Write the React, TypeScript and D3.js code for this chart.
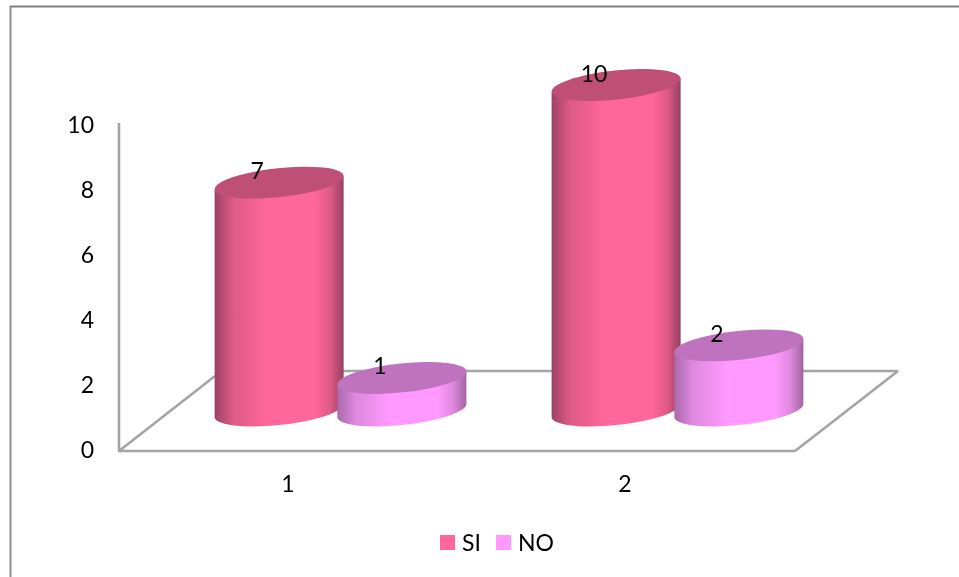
import React from "react";
import * as d3 from "d3";

const categories = ["1", "2"];
const seriesNames = ["SI", "NO"];
const siValues = [7, 10];
const noValues = [1, 2];
const yTicks = [0, 2, 4, 6, 8, 10];

const WIDTH = 959;
const HEIGHT = 577;
const FONT = "Lato, 'Open Sans', sans-serif";
const AXIS = "#a4a4a4";

const colours: Record<string, { id: string; face: string; top: string; edgeL: string; edgeM: string; edgeR: string }> = {
  SI: { id: "gradSI", face: "#ff6699", top: "#bf4f75", edgeL: "#9c4263", edgeM: "#dc5a85", edgeR: "#93405f" },
  NO: { id: "gradNO", face: "#ff99ff", top: "#bf73bf", edgeL: "#aa69aa", edgeM: "#dd88dd", edgeR: "#a064a0" },
};

// category axis along the front floor edge
const xCat = d3.scaleBand<string>().domain(categories).range([119.5, 793.5]);
// the bars sit shifted back along the floor depth
const xSeries = d3.scaleBand<string>().domain(seriesNames).range([0, 245.5]);
const DEPTH_SHIFT = 52.5;
// printed axis labels
const yAxis = d3.scaleLinear().domain([0, 10]).range([449, 124]);
// cylinder top centres
const yBar = d3.scaleLinear().domain([0, 10]).range([410.5, 85]);

const A = 64.8;
const B = 14.5;
const ROT = -6.06;
const HALF_W = 64.5;
const TILT = 6.5;

function Cylinder({ cx, value, name }: { cx: number; value: number; name: string }) {
  const c = colours[name];
  const top = yBar(value);
  const base = yBar(0);
  const arc = `A${A} ${B} ${ROT} 0 0 ${cx + HALF_W} ${base - TILT}`;
  const d = `M${cx - HALF_W} ${top + TILT}L${cx - HALF_W} ${base + TILT}${arc}L${cx + HALF_W} ${top - TILT}Z`;
  return (
    <g>
      <path d={d} fill={`url(#${c.id})`} />
      <ellipse cx={cx} cy={top} rx={A} ry={B} fill={c.top} transform={`rotate(${ROT} ${cx} ${top})`} />
    </g>
  );
}

export default function App() {
  const bars = categories.flatMap((cat, i) =>
    seriesNames.map((name) => {
      const value = (name === "SI" ? siValues : noValues)[i];
      const cx = xCat(cat)! + xCat.bandwidth() / 2 + DEPTH_SHIFT - 122.75 + xSeries(name)! + xSeries.bandwidth() / 2;
      return { cat, name, value, cx };
    })
  );

  return (
    <svg
      width={WIDTH}
      height={HEIGHT}
      viewBox={`0 0 ${WIDTH} ${HEIGHT}`}
      style={{ position: "absolute", left: 0, top: 0, background: "#fff" }}
    >
      <defs>
        {seriesNames.map((n) => {
          const c = colours[n];
          return (
            <linearGradient key={n} id={c.id} x1="0" x2="1" y1="0" y2="0">
              <stop offset="0" stopColor={c.edgeL} />
              <stop offset="0.14" stopColor={c.edgeM} />
              <stop offset="0.4" stopColor={c.face} />
              <stop offset="0.78" stopColor={c.face} />
              <stop offset="0.9" stopColor={c.edgeM} />
              <stop offset="1" stopColor={c.edgeR} />
            </linearGradient>
          );
        })}
        <filter id="soft" x="-5%" y="-5%" width="110%" height="110%">
          <feGaussianBlur stdDeviation="0.45" />
        </filter>
      </defs>

      {/* frame */}
      <line x1={10.5} x2={10.5} y1={6} y2={HEIGHT} stroke="#909090" strokeWidth={2} />
      <line x1={10} x2={WIDTH} y1={6.5} y2={6.5} stroke="#808080" strokeWidth={2} />

      <g filter="url(#soft)">
        {/* axes and floor */}
        <g stroke={AXIS} strokeWidth={2.6} fill="none">
          <line x1={119} x2={119} y1={123} y2={451} />
          <line x1={118} x2={795} y1={451} y2={451} />
          <line x1={119} y1={451} x2={215} y2={376} />
          <line x1={215} x2={898} y1={371} y2={371} />
          <line x1={898} y1={371} x2={795} y2={451} />
        </g>

        {bars.map((b) => (
          <Cylinder key={b.cat + b.name} cx={b.cx} value={b.value} name={b.name} />
        ))}

        {/* value labels */}
        {bars.map((b) => (
          <text
            key={"v" + b.cat + b.name}
            x={b.cx - 22}
            y={yBar(b.value) - 3.5}
            textAnchor="middle"
            fontFamily={FONT}
            fontSize={23}
            fill="#000"
          >
            {b.value}
          </text>
        ))}

        {/* y tick labels */}
        {yTicks.map((t) => (
          <text key={t} x={94} y={yAxis(t) + 8.5} textAnchor="end" fontFamily={FONT} fontSize={23} fill="#000">
            {t}
          </text>
        ))}

        {/* category labels */}
        {categories.map((c) => (
          <text
            key={c}
            x={xCat(c)! + xCat.bandwidth() / 2}
            y={492}
            textAnchor="middle"
            fontFamily={FONT}
            fontSize={23}
            fill="#000"
          >
            {c}
          </text>
        ))}

        {/* legend */}
        {seriesNames.map((n, i) => (
          <g key={n} transform={`translate(${440 + i * 56},0)`}>
            <rect x={0} y={535} width={15} height={15} fill={colours[n].face} />
            <text x={22} y={551} fontFamily={FONT} fontSize={23} fill="#000">
              {n}
            </text>
          </g>
        ))}
      </g>
    </svg>
  );
}
